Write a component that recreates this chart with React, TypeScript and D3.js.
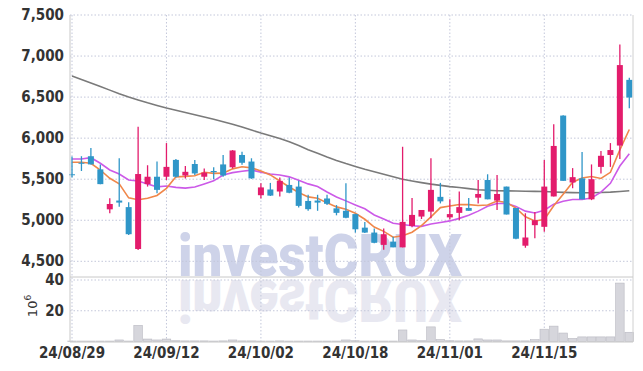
import React from "react";
import { scaleLinear, scalePoint, line } from "d3";

// trading days shown on the chart
const dates = [
  "24/08/29", "24/08/30", "24/09/02", "24/09/03", "24/09/04", "24/09/05", "24/09/06", "24/09/09", "24/09/10", "24/09/11",
  "24/09/12", "24/09/13", "24/09/19", "24/09/20", "24/09/23", "24/09/24", "24/09/25", "24/09/26", "24/09/27", "24/09/30",
  "24/10/02", "24/10/04", "24/10/07", "24/10/08", "24/10/10", "24/10/11", "24/10/14", "24/10/15", "24/10/16", "24/10/17",
  "24/10/18", "24/10/21", "24/10/22", "24/10/23", "24/10/24", "24/10/25", "24/10/28", "24/10/29", "24/10/30", "24/10/31",
  "24/11/01", "24/11/04", "24/11/05", "24/11/06", "24/11/07", "24/11/08", "24/11/11", "24/11/12", "24/11/13", "24/11/14",
  "24/11/15", "24/11/18", "24/11/19", "24/11/20", "24/11/21", "24/11/22", "24/11/25", "24/11/26", "24/11/27", "24/11/28",
];
const open = [
  5560, 5700, 5780, 5620, 5133, 5240, 5160, 4650, 5440, 5530,
  5530, 5735, 5545, 5685, 5530, 5600, 5680, 5645, 5795, 5715,
  5305, 5375, 5350, 5430, 5410, 5235, 5240, 5265, 5145, 5115,
  5075, 4910, 4850, 4700, 4740, 4670, 4930, 5045, 5105, 5285,
  5035, 5090, 5150, 5275, 5490, 5240, 5410, 5150, 4690, 4940,
  4920, 5290, 6275, 5460, 5510, 5255, 5650, 5795, 5910, 6710,
];
const high = [
  5775, 5780, 5880, 5680, 5267, 5755, 5220, 6140, 5670, 5715,
  5940, 5745, 5660, 5735, 5630, 5645, 5795, 5855, 5835, 5755,
  5450, 5455, 5520, 5520, 5480, 5310, 5310, 5310, 5185, 5450,
  5080, 4980, 4900, 4900, 4800, 5895, 5270, 5125, 5755, 5455,
  5255, 5350, 5270, 5490, 5560, 5550, 5410, 5150, 5085, 5100,
  5735, 6170, 6280, 5635, 5830, 5680, 5845, 5940, 7140, 6735,
];
const low = [
  5520, 5600, 5680, 5440, 5085, 5165, 4820, 4638, 5410, 5330,
  5490, 5520, 5510, 5550, 5490, 5500, 5530, 5630, 5675, 5505,
  5265, 5295, 5290, 5330, 5155, 5115, 5115, 5185, 5060, 5025,
  4850, 4845, 4720, 4640, 4670, 4670, 4915, 5015, 5025, 5205,
  5010, 5000, 5115, 5205, 5255, 5125, 5070, 4770, 4665, 4780,
  4860, 5290, 5480, 5390, 5255, 5245, 5570, 5650, 5745, 6365,
];
const close = [
  5550, 5690, 5680, 5440, 5198, 5215, 4830, 5563, 5530, 5370,
  5650, 5530, 5590, 5570, 5580, 5585, 5545, 5850, 5700, 5510,
  5400, 5300, 5480, 5335, 5175, 5135, 5215, 5200, 5090, 5030,
  4890, 4850, 4725, 4830, 4670, 4980, 5065, 5125, 5370, 5230,
  5075, 5160, 5115, 5320, 5255, 5320, 5070, 4775, 4790, 5000,
  5410, 5905, 5480, 5525, 5255, 5500, 5785, 5855, 6890, 6495,
];
// volume, in millions
const volume = [
  0.3, 0.3, 0.3, 0.3, 0.3, 1.0, 0.3, 10.5, 1.6, 1.0,
  1.6, 0.5, 0.4, 0.4, 0.4, 0.3, 0.4, 1.0, 0.4, 0.4,
  0.3, 0.3, 0.4, 0.3, 0.3, 0.3, 0.3, 0.3, 0.3, 1.0,
  0.5, 0.3, 0.3, 0.3, 0.3, 7.5, 1.0, 0.5, 9.5, 1.3,
  0.5, 0.4, 0.4, 1.7, 1.0, 1.0, 0.4, 0.4, 0.4, 1.2,
  8, 10, 5.5, 2, 3, 3, 3, 3, 38, 6,
];
// moving average values before enough closes are on screen
const ma5Head = [5706, 5706, 5694, 5612];
const ma10Head = [5746, 5746, 5762, 5694, 5612, 5563, 5490, 5478, 5442];
// long moving average (grey line)
const maLong = [
  6757, 6715, 6672, 6630, 6585, 6540, 6500, 6465, 6430, 6398,
  6367, 6340, 6312, 6285, 6258, 6230, 6200, 6170, 6135, 6098,
  6062, 6030, 5995, 5955, 5910, 5860, 5815, 5770, 5728, 5690,
  5655, 5620, 5590, 5560, 5530, 5500, 5478, 5458, 5440, 5425,
  5410, 5398, 5385, 5372, 5365, 5360, 5358, 5356, 5354, 5352,
  5350, 5345, 5340, 5337, 5335, 5335, 5338, 5342, 5350, 5360,
];
const priceTicks = [4500, 5000, 5500, 6000, 6500, 7000, 7500];
const volTicks = [20, 40];
const dateTicks = ["24/08/29", "24/09/12", "24/10/02", "24/10/18", "24/11/01", "24/11/15"];

const UP = "#e31c6c";
const DOWN = "#2f96c8";
const GRID = "#c3c7da";
const FONT = "'Liberation Sans Narrow', 'DejaVu Sans Condensed', sans-serif";

function movingAvg(vals: number[], n: number, head: number[]) {
  return vals.map((v, i) => {
    if (i < n - 1) return head[i];
    let s = 0;
    for (let k = i - n + 1; k <= i; k++) s += vals[k];
    return s / n;
  });
}

const App = () => {
  const left = 70, right = 633, top = 15, split = 277, bottom = 342;

  const x = scalePoint<string>().domain(dates).range([72, 629.3]);
  const yP = scaleLinear().domain([4500, 7500]).range([261.3, 15]);
  const yV = scaleLinear().domain([0, 40]).range([341.5, 280]);

  const ma5 = movingAvg(close, 5, ma5Head);
  const ma10 = movingAvg(close, 10, ma10Head);

  const maLine = line<number>()
    .x((d, i) => x(dates[i]) as number)
    .y((d) => yP(d));

  const fmt = (v: number) => v.toLocaleString("en-US");

  const bodyW = 6;
  const barW = 8.6;

  const mark = (
    <text
      x={178}
      y={276}
      fontFamily="Roboto, 'DejaVu Sans', sans-serif"
      fontWeight={900}
      fontSize={60}
      textLength={284}
      lengthAdjust="spacingAndGlyphs"
    >
      investCRUX
    </text>
  );

  return (
    <svg width={643} height={371} style={{ position: "absolute", left: 0, top: 0, background: "#fff" }}>
      <defs>
        <clipPath id="priceClip">
          <rect x={left} y={top} width={right - left} height={split - top} />
        </clipPath>
        <clipPath id="volClip">
          <rect x={left} y={split} width={right - left} height={bottom - split} />
        </clipPath>
      </defs>

      {/* watermark and its reflection */}
      <g clipPath="url(#priceClip)" fill="#ced3e9">{mark}</g>
      <g clipPath="url(#volClip)" fill="#e8e8f1">
        <g transform={`translate(0, ${2 * 278}) scale(1,-1)`}>{mark}</g>
      </g>

      {/* grid */}
      {priceTicks.map((t) => (
        <line key={"p" + t} x1={left} x2={right} y1={yP(t)} y2={yP(t)} stroke={GRID} strokeDasharray="1.5,2" />
      ))}
      {volTicks.map((t) => (
        <line key={"v" + t} x1={left} x2={right} y1={yV(t)} y2={yV(t)} stroke={GRID} strokeDasharray="1.5,2" />
      ))}
      {dateTicks.map((d) => (
        <line key={"d" + d} x1={x(d)} x2={x(d)} y1={top} y2={bottom} stroke={GRID} strokeDasharray="1.5,2" />
      ))}

      {/* volume */}
      {volume.map((v, i) => (
        <rect
          key={"vol" + i}
          x={(x(dates[i]) as number) - barW / 2}
          y={yV(v)}
          width={barW}
          height={yV(0) - yV(v)}
          fill="#d6d6dc"
          stroke="#b9b9c2"
          strokeWidth={0.6}
        />
      ))}

      {/* moving averages */}
      <path d={maLine(maLong) || ""} fill="none" stroke="#7a7a7a" strokeWidth={1.6} />
      <path d={maLine(ma10) || ""} fill="none" stroke="#cc5ae8" strokeWidth={1.6} />
      <path d={maLine(ma5) || ""} fill="none" stroke="#f0874a" strokeWidth={1.6} />

      {/* candles */}
      {dates.map((d, i) => {
        const cx = x(d) as number;
        const up = close[i] >= open[i];
        const col = up ? UP : DOWN;
        const yTop = yP(Math.max(open[i], close[i]));
        const yBot = yP(Math.min(open[i], close[i]));
        return (
          <g key={"c" + i}>
            <line x1={cx} x2={cx} y1={yP(high[i])} y2={yP(low[i])} stroke={col} strokeWidth={1.3} />
            <rect x={cx - bodyW / 2} y={yTop} width={bodyW} height={Math.max(1, yBot - yTop)} fill={col} />
          </g>
        );
      })}

      {/* frame */}
      <line x1={left} x2={left} y1={top} y2={bottom} stroke="#c8c8c8" />
      <line x1={right} x2={right} y1={top} y2={bottom} stroke="#d0d0d0" />
      <line x1={left} x2={right} y1={split} y2={split} stroke="#c8c8c8" />
      <line x1={left} x2={right} y1={bottom} y2={bottom} stroke="#c8c8c8" />

      {/* axis labels */}
      <g fontFamily={FONT} fontWeight="bold" fontSize={15} fill="#333">
        {priceTicks.map((t) => (
          <text key={"pl" + t} x={64} y={yP(t) + 5} textAnchor="end">
            {fmt(t)}
          </text>
        ))}
        {volTicks.map((t) => (
          <text key={"vl" + t} x={64} y={yV(t) + 5} textAnchor="end">
            {t}
          </text>
        ))}
        {dateTicks.map((d) => (
          <text key={"dl" + d} x={x(d)} y={358} textAnchor="middle">
            {d}
          </text>
        ))}
      </g>
      <text
        transform="translate(37,306) rotate(-90)"
        textAnchor="middle"
        fontFamily="'DejaVu Sans', sans-serif"
        fontSize={13}
        fill="#333"
      >
        10
        <tspan dy={-6} fontSize={9}>
          6
        </tspan>
      </text>
    </svg>
  );
};

export default App;
